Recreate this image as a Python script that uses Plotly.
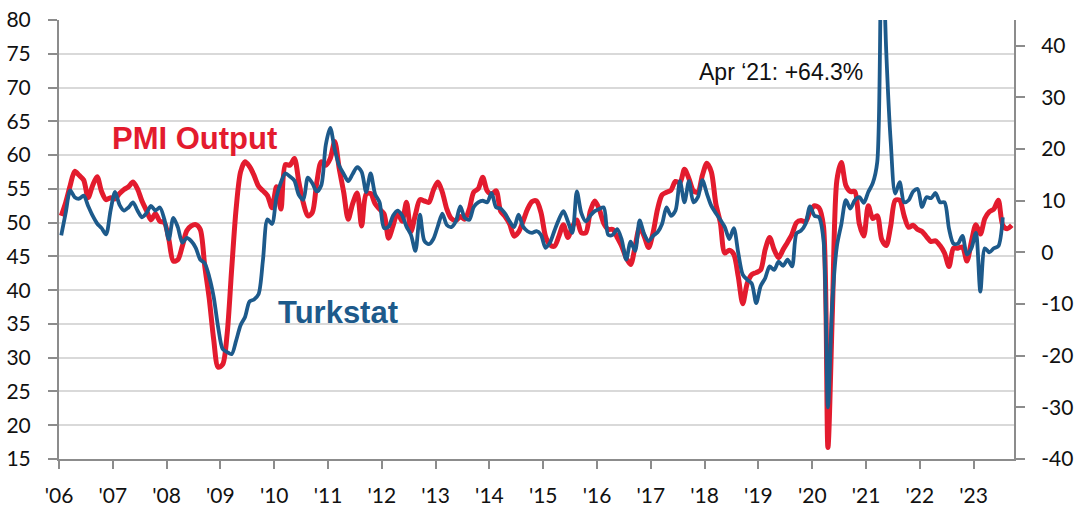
import plotly.graph_objects as go

# Monthly data, Jan 2006 .. Sep 2023 (PMI) and Jan 2006 .. Jul 2023 (Turkstat)
pmi_output = [
    51.0, 53.0, 55.5, 57.6, 57.0, 56.3, 53.7, 55.5, 56.8, 54.6, 53.4, 53.7,
    53.5, 54.3, 54.9, 55.3, 56.0, 55.0, 53.2, 51.8, 50.4, 51.3, 50.2, 50.0,
    47.5, 44.3, 44.5, 46.5, 48.8, 49.5, 49.7, 49.0, 43.6, 38.8, 32.7, 28.6,
    29.0, 33.5, 43.0, 52.0, 57.5, 59.0, 58.3, 57.0, 55.4, 54.7, 54.0, 52.2,
    55.3, 52.0, 58.6, 58.5, 59.5, 56.0, 52.9, 51.0, 51.5, 56.0, 59.0, 58.5,
    59.5, 62.0, 58.0, 54.5, 50.5, 52.8, 54.4, 49.5, 54.2, 54.3, 52.8, 52.0,
    51.3, 47.7, 49.5, 51.5, 50.2, 53.0, 48.7, 51.2, 53.4, 53.2, 53.0, 54.8,
    56.0, 54.5, 52.0, 50.6, 50.3, 50.9, 50.5, 52.0, 54.5, 55.0, 56.7, 54.7,
    54.2, 54.7, 51.7, 50.9, 49.8, 48.0, 48.6, 50.2, 52.0, 53.1, 53.2, 51.5,
    48.0, 46.7, 46.5, 48.0, 49.7, 47.8, 49.4, 50.4, 48.5, 48.5, 51.7, 53.2,
    52.0, 49.9, 49.0, 49.0, 47.8, 46.5, 44.8, 43.8, 46.5, 49.3, 48.0, 46.3,
    48.5, 52.0, 54.1, 54.5, 54.8, 56.1, 55.9, 57.9, 56.5, 54.7, 54.5, 57.0,
    58.8, 57.5, 52.8, 50.0, 45.5, 45.9, 45.3, 42.0, 38.0, 41.0, 42.3, 42.6,
    43.0, 46.0, 47.8, 46.0, 44.8, 46.0, 47.1, 48.3, 50.0, 50.3, 50.1, 51.6,
    52.5, 52.2, 49.5, 16.7, 37.0, 56.3, 58.9, 55.5, 54.6, 54.6, 49.8, 48.0,
    52.5, 50.6, 51.0, 47.5, 46.6, 49.5, 53.3, 53.3, 51.0, 49.3, 49.6, 49.0,
    48.7, 47.9, 47.2, 47.3, 46.6, 45.5, 43.5, 46.2, 46.2, 46.4, 44.3, 47.2,
    49.7, 48.3, 50.6, 51.6, 52.0, 53.3, 49.6, 49.1, 49.6,
]

turkstat_yoy = [
    3.3, 7.7, 12.0, 10.7, 10.4, 11.0, 9.0, 7.1, 5.6, 4.7, 3.5, 8.1,
    11.7, 9.2, 8.1, 8.7, 9.7, 8.1, 6.8, 7.6, 9.0, 8.1, 8.7, 6.4,
    2.5, 6.7, 4.9, 1.9, 2.8, 2.2, 0.9, -1.4, -2.1, -4.7, -8.6, -14.5,
    -18.7, -19.3, -19.7, -17.1, -14.1, -12.5, -9.5, -9.1, -8.1, -1.4, 6.4, 5.5,
    10.7, 13.6, 15.3, 14.7, 13.9, 11.1, 10.2, 14.5, 13.4, 11.8, 13.0, 20.8,
    24.1, 19.9, 16.8, 15.2, 13.8, 15.2, 16.5, 15.6, 11.7, 15.3, 11.3, 9.7,
    4.7, 5.0, 7.1, 8.1, 7.2, 5.0, 3.4, 0.3, 7.3, 2.2, 1.6, 2.6,
    5.1, 7.5, 5.3, 4.9, 6.0, 8.9, 6.7, 6.3, 8.8, 9.7, 10.0, 9.7,
    11.5, 8.7, 8.5, 7.5, 6.0, 4.9, 7.3, 5.0, 4.1, 3.8, 4.1, 3.4,
    0.9, 1.9, 4.2, 6.4, 8.0, 6.0, 3.8, 11.8, 7.6, 6.0, 7.1, 8.0,
    8.4, 8.7, 3.4, 3.4, 4.5, 2.5, -1.4, 2.1, 0.3, 6.2, 3.6, 2.2,
    3.2, 3.9, 5.5, 8.7, 7.1, 8.1, 13.8, 9.7, 13.8, 9.7, 10.7, 14.0,
    11.4, 9.0, 7.6, 6.3, 4.9, 2.6, 4.7, -0.1, -4.3, -5.3, -6.0, -9.8,
    -6.5, -5.0, -2.7, -3.4, -1.8, -2.6, -1.4, -2.7, 3.7, 4.2, 5.5, 8.9,
    7.1, 6.8, 2.5, -30.0, -9.3, 1.2, 5.5, 10.1, 8.5, 10.1, 10.7, 9.6,
    11.7, 13.4, 17.5, 64.3, 39.0, 21.5, 11.4, 13.6, 9.7, 10.1, 11.8, 12.3,
    8.8, 10.7, 10.5, 11.5, 9.7, 9.7, 4.6, 1.7, 1.7, 3.2, -0.4, 0.8,
    3.8, -7.6, 0.8, 0.0, 0.8, 1.2, 6.8,
]

year_labels = ["'06", "'07", "'08", "'09", "'10", "'11", "'12", "'13", "'14",
               "'15", "'16", "'17", "'18", "'19", "'20", "'21", "'22", "'23"]
left_ticks = [15, 20, 25, 30, 35, 40, 45, 50, 55, 60, 65, 70, 75, 80]
right_ticks = [-40, -30, -20, -10, 0, 10, 20, 30, 40]
right_tick_labels = ["-40", "-30", "-20", "-10", "0", "10", "20", "30", "40"]

RED = "#E31B2E"
BLUE = "#1D5A8B"
AXIS = "#8C8C8C"
GRID = "#D9D9D9"

n_months = len(pmi_output)
x_pmi = [i + 0.5 for i in range(len(pmi_output))]
x_ts = [i + 0.5 for i in range(len(turkstat_yoy))]

fig = go.Figure()
fig.add_trace(go.Scatter(x=x_pmi, y=pmi_output, mode="lines", name="PMI Output",
                         line=dict(color=RED, width=5, shape="spline", smoothing=0.8),
                         yaxis="y"))
fig.add_trace(go.Scatter(x=x_ts, y=turkstat_yoy, mode="lines", name="Turkstat",
                         line=dict(color=BLUE, width=3.8, shape="spline", smoothing=0.8),
                         yaxis="y2"))

tick_font = dict(family="Lato, Noto Sans, sans-serif", size=21, color="#111111")

fig.update_layout(
    width=1078, height=509,
    margin=dict(l=59, r=64, t=20, b=50),
    paper_bgcolor="white", plot_bgcolor="white",
    showlegend=False,
    xaxis=dict(
        range=[0, n_months], tickmode="array", automargin=False,
        tickvals=[12 * k for k in range(len(year_labels))], ticktext=year_labels,
        showgrid=False, zeroline=False, showline=True, linecolor=AXIS, linewidth=2,
        ticks="outside", ticklen=8, tickwidth=2, tickcolor=AXIS,
        tickfont=tick_font, ticklabelstandoff=9, ticklabeloverflow="allow",
    ),
    yaxis=dict(
        range=[15, 80], tickmode="array", tickvals=left_ticks, automargin=False,
        showgrid=True, gridcolor=GRID, gridwidth=2, zeroline=False,
        showline=True, linecolor=AXIS, linewidth=2,
        ticks="outside", ticklen=9, tickwidth=2, tickcolor=AXIS,
        tickfont=tick_font, ticklabelstandoff=13, ticklabeloverflow="allow",
    ),
    yaxis2=dict(
        range=[-40, 45], tickmode="array", tickvals=right_ticks,
        ticktext=right_tick_labels, automargin=False,
        overlaying="y", side="right", showgrid=False, zeroline=False,
        showline=True, linecolor=AXIS, linewidth=2,
        ticks="outside", ticklen=9, tickwidth=2, tickcolor=AXIS,
        tickfont=tick_font, ticklabelstandoff=12, ticklabeloverflow="allow",
    ),
    annotations=[
        dict(x=30.3, y=62.5, xref="x", yref="y", text="<b>PMI Output</b>",
             showarrow=False, xanchor="center", yanchor="middle",
             font=dict(family="Liberation Sans, Arial, sans-serif", size=31, color=RED)),
        dict(x=62.2, y=36.7, xref="x", yref="y", text="<b>Turkstat</b>",
             showarrow=False, xanchor="center", yanchor="middle",
             font=dict(family="Liberation Sans, Arial, sans-serif", size=31, color=BLUE)),
        dict(x=142.3, y=72.3, xref="x", yref="y", text="Apr \u201821: +64.3%",
             showarrow=False, xanchor="left", yanchor="middle",
             font=dict(family="Liberation Sans, Arial, sans-serif", size=23, color="#111111")),
    ],
)

# remove the page's default 8px body margin so the figure sits at the window's corner
fig.write_html("out.html", config={"displayModeBar": False},
               post_script="document.body.style.margin='0';document.body.style.padding='0';")
